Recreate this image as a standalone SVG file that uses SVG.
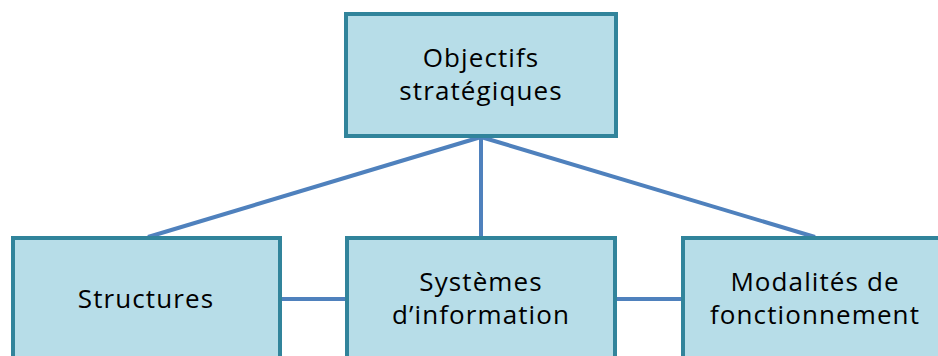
<svg xmlns="http://www.w3.org/2000/svg" width="938" height="356" viewBox="0 0 938 356">
<style>
.box{fill:#B7DDE8;stroke:#31849B;stroke-width:4}
.lbl{font-family:"Open Sans","Liberation Sans",sans-serif;font-size:26px;fill:#000;text-anchor:middle;letter-spacing:1.1px}
.conn{stroke:#4F81BD;stroke-width:4;fill:none}
</style>
<rect width="938" height="356" fill="#fff"/>
<g id="connectors">
<line class="conn" x1="481" y1="137" x2="148" y2="237"/>
<line class="conn" x1="481" y1="137" x2="481" y2="237"/>
<line class="conn" x1="481" y1="137" x2="815" y2="237"/>
<line class="conn" x1="280" y1="299" x2="347" y2="299"/>
<line class="conn" x1="614" y1="299" x2="682" y2="299"/>
</g>
<g id="objectifs">
<rect class="box" x="346" y="14" width="270" height="122"/>
<text class="lbl" x="481" y="67">Objectifs</text>
<text class="lbl" x="481" y="100">stratégiques</text>
</g>
<g id="structures">
<rect class="box" x="13" y="238" width="267" height="140"/>
<text class="lbl" x="146" y="308">Structures</text>
</g>
<g id="systemes">
<rect class="box" x="347" y="238" width="268" height="140"/>
<text class="lbl" x="481" y="291">Systèmes</text>
<text class="lbl" x="481" y="324">d’information</text>
</g>
<g id="modalites">
<rect class="box" x="683" y="238" width="280" height="140"/>
<text class="lbl" x="815" y="291">Modalités de</text>
<text class="lbl" x="815" y="324">fonctionnement</text>
</g>
</svg>
